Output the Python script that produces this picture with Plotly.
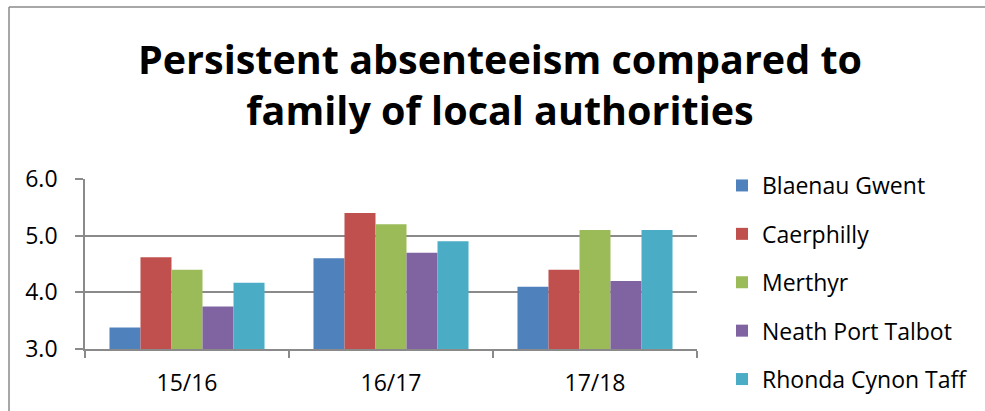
import plotly.graph_objects as go

categories = ["15/16", "16/17", "17/18"]
series_names = ["Blaenau Gwent", "Caerphilly", "Merthyr", "Neath Port Talbot", "Rhonda Cynon Taff"]
blaenau_gwent = [3.38, 4.6, 4.1]
caerphilly = [4.62, 5.4, 4.4]
merthyr = [4.4, 5.2, 5.1]
neath_port_talbot = [3.75, 4.7, 4.2]
rhonda_cynon_taff = [4.17, 4.9, 5.1]
series_values = [blaenau_gwent, caerphilly, merthyr, neath_port_talbot, rhonda_cynon_taff]
colors = ["#4F81BD", "#C0504D", "#9BBB59", "#8064A2", "#4BACC6"]
title_text = "Persistent absenteeism compared to<br>family of local authorities"

FONT = "Open Sans"
W, H = 985, 411
L, R, T, B = 85, 288, 179, 62
pw, ph = W - L - R, H - T - B
AXIS = "#8a8a8a"

fig = go.Figure()
for i, (name, vals) in enumerate(zip(series_names, series_values)):
    fig.add_trace(go.Bar(
        x=categories, y=vals, name=name, legendgroup=name,
        marker=dict(color=colors[i], line=dict(width=0)),
    ))

def px_x(p):
    return (p - L) / pw

def px_y(p):
    return (H - B - p) / ph

border = dict(color=AXIS, width=1.5)
fig.update_layout(
    width=W, height=H,
    margin=dict(l=L, r=R, t=T, b=B, autoexpand=False),
    paper_bgcolor="white", plot_bgcolor="white",
    barmode="group", bargap=0.24, bargroupgap=0,
    font=dict(family=FONT, size=23, color="black"),
    title=dict(text=title_text, x=500 / W, xanchor="center", xref="container",
               y=1 - 74 / H, yanchor="middle", yref="container",
               font=dict(family=FONT, size=39.5, color="black", weight="bold")),
    showlegend=True,
    legend=dict(x=px_x(722), xanchor="left", y=px_y(164), yanchor="top",
                font=dict(family=FONT, size=23), tracegroupgap=15.5,
                bgcolor="rgba(0,0,0,0)", maxheight=1),
    xaxis=dict(type="category", showline=True, linecolor=AXIS, linewidth=1.7,
               ticks="outside", tickson="boundaries", ticklen=7, tickcolor=AXIS,
               tickwidth=1.7, showgrid=False, tickfont=dict(size=23, family=FONT),
               ticklabelstandoff=13),
    yaxis=dict(range=[3, 6], dtick=1, tick0=3, tickformat=".1f", showline=True,
               linecolor=AXIS, linewidth=1.7, ticks="outside", ticklen=8,
               tickcolor=AXIS, tickwidth=1.7, showgrid=True, gridcolor=AXIS,
               gridwidth=1.7, zeroline=False, tickfont=dict(size=23, family=FONT),
               ticklabelstandoff=13),
    shapes=[
        dict(type="line", xref="paper", yref="paper",
             x0=px_x(9), x1=px_x(1200), y0=px_y(7), y1=px_y(7), line=border, layer="below"),
        dict(type="line", xref="paper", yref="paper",
             x0=px_x(9), x1=px_x(9), y0=px_y(7), y1=px_y(600), line=border, layer="below"),
    ],
)

fig.write_html("out.html", config={"displayModeBar": False},
               post_script="document.body.style.margin='0';document.body.style.overflow='hidden';")
